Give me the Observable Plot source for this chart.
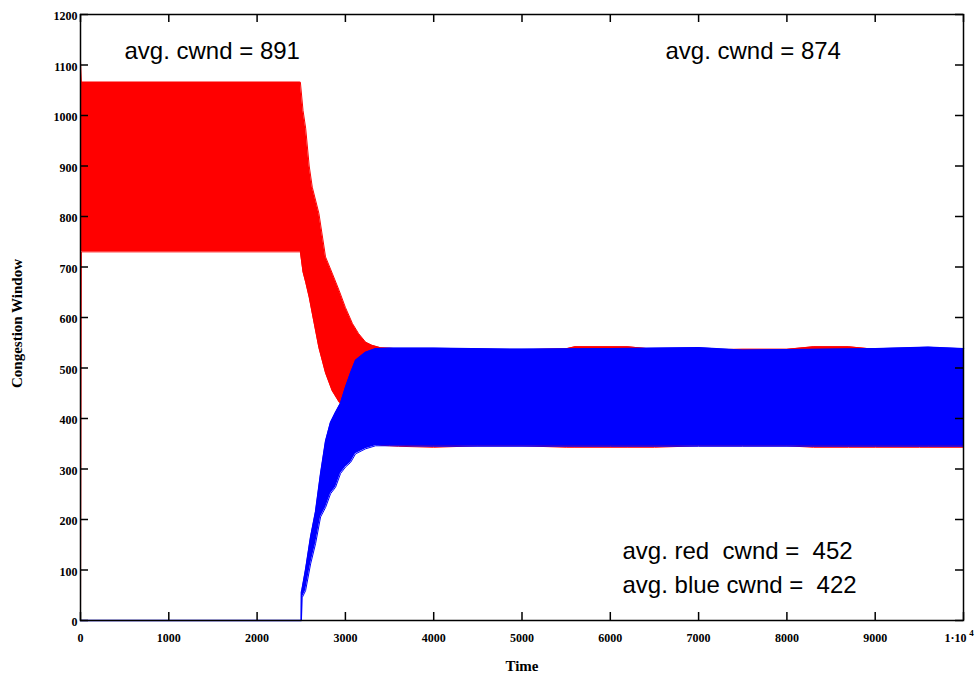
<!DOCTYPE html>
<html><head><meta charset="utf-8">
<script src="https://cdn.jsdelivr.net/npm/d3@7"></script>
<script src="https://cdn.jsdelivr.net/npm/@observablehq/plot@0.6"></script>
<style>body{margin:0;background:#fff} svg text{white-space:pre}</style>
</head><body><div id="chart"></div>
<script>
// Red flow: envelope (min / max of the oscillating cwnd)
const redTime = [0, 10, 2490, 2520, 2550, 2590, 2625, 2700, 2775, 2850, 2930, 3000, 3080, 3150, 3230, 3300, 3400, 3600, 4000, 4500, 5000, 5500, 5600, 6200, 6500, 7000, 7500, 8000, 8300, 8700, 9000, 9500, 10000];
const redHigh = [1108, 1066, 1066, 1010, 975, 900, 858, 806, 720, 688, 653, 620, 588, 568, 551, 545, 540, 538, 538, 537, 536, 538, 542, 542, 537, 536, 537, 537, 542, 542, 537, 537, 536];
const redLow  = [0, 730, 730, 690, 670, 640, 608, 540, 490, 455, 432, 420, 395, 375, 360, 352, 347, 345, 343, 346, 346, 343, 343, 343, 343, 346, 346, 346, 343, 343, 343, 343, 343];
// Blue flow: starts at t = 2500
const blueTime = [0, 2500, 2502, 2510, 2549, 2606, 2662, 2719, 2776, 2832, 2889, 2945, 3002, 3059, 3115, 3229, 3342, 3500, 4000, 5000, 6000, 7000, 7500, 9000, 9600, 10000];
const blueHigh = [0, 0, 56, 62, 100, 165, 215, 290, 355, 392, 412, 430, 462, 490, 515, 531, 538, 539, 539, 537, 538, 540, 535, 538, 541, 538];
const blueLow  = [0, 0, 0, 45, 59, 112, 152, 205, 224, 251, 264, 291, 304, 313, 330, 340, 346, 346, 345, 345, 345, 345, 345, 345, 345, 345];

const xTicks = [0, 1000, 2000, 3000, 4000, 5000, 6000, 7000, 8000, 9000, 10000];
const xTickLabels = ["0", "1000", "2000", "3000", "4000", "5000", "6000", "7000", "8000", "9000", "1\u00b710"];
const xLastExponent = "4";
const yTicks = [0, 100, 200, 300, 400, 500, 600, 700, 800, 900, 1000, 1100, 1200];
const xLabel = "Time";
const yLabel = "Congestion Window";
const noteTopLeft = "avg. cwnd = 891";
const noteTopRight = "avg. cwnd = 874";
const noteRed = "avg. red  cwnd =  452";
const noteBlue = "avg. blue cwnd =  422";

const red = redTime.map((t, i) => ({t, lo: redLow[i], hi: redHigh[i]}));
const blue = blueTime.map((t, i) => ({t, lo: blueLow[i], hi: blueHigh[i]}));

const W = 977, H = 679, mL = 80, mR = 14, mT = 14, mB = 59;
const innerW = W - mL - mR, innerH = H - mT - mB;
const serif = "'Liberation Serif','Times New Roman',serif";
const sans = "'Liberation Sans',Arial,Helvetica,sans-serif";
const RED = "#ff0000", BLUE = "#0000ff";
const lastTick = xTicks[xTicks.length - 1];

const plot = Plot.plot({
  width: W, height: H,
  marginLeft: mL, marginRight: mR, marginTop: mT, marginBottom: mB,
  style: {fontFamily: serif, background: "white", color: "black"},
  x: {domain: [0, 10000]},
  y: {domain: [0, 1200]},
  marks: [
    Plot.areaY(red, {x: "t", y1: "lo", y2: "hi", fill: RED}),
    Plot.lineY(red, {x: "t", y: "hi", stroke: RED, strokeWidth: 1}),
    Plot.lineY(red, {x: "t", y: "lo", stroke: RED, strokeWidth: 1}),
    Plot.areaY(blue, {x: "t", y1: "lo", y2: "hi", fill: BLUE}),
    Plot.lineY(blue, {x: "t", y: "hi", stroke: BLUE, strokeWidth: 1.5}),
    Plot.lineY(blue, {x: "t", y: "lo", stroke: BLUE, strokeWidth: 1}),
    Plot.frame({stroke: "black", strokeWidth: 1.5}),
    Plot.ruleX(xTicks, {x: d => d, insetTop: innerH - 8, stroke: "black", strokeWidth: 1.5}),
    Plot.ruleX(xTicks, {x: d => d, insetBottom: innerH - 8, stroke: "black", strokeWidth: 1.5}),
    Plot.ruleY(yTicks, {y: d => d, insetRight: innerW - 8, stroke: "black", strokeWidth: 1.5}),
    Plot.ruleY(yTicks, {y: d => d, insetLeft: innerW - 8, stroke: "black", strokeWidth: 1.5}),
    Plot.axisX(xTicks.slice(0, -1), {tickSize: 0, tickPadding: 13, label: null, fontSize: 12, fontWeight: "bold",
      tickFormat: d => xTickLabels[xTicks.indexOf(d)]}),
    Plot.text([xTickLabels[xTickLabels.length - 1]], {x: () => lastTick, frameAnchor: "bottom", dx: -8, dy: 21,
      text: d => d, fontSize: 12, fontWeight: "bold", fontFamily: serif}),
    Plot.text([xLastExponent], {x: () => lastTick, frameAnchor: "bottom", dx: 8, dy: 15,
      text: d => d, fontSize: 9, fontWeight: "bold", fontFamily: serif}),
    Plot.axisY(yTicks, {tickSize: 0, tickPadding: 3, label: null, fontSize: 12, fontWeight: "bold", dy: 2,
      tickFormat: d => String(d)}),
    Plot.text([xLabel], {frameAnchor: "bottom", dy: 50, text: d => d, fontSize: 15, fontWeight: "bold", fontFamily: serif}),
    Plot.text([yLabel], {frameAnchor: "left", dx: -63, dy: 6, rotate: -90, textAnchor: "middle", text: d => d, fontSize: 15, fontWeight: "bold", fontFamily: serif}),
    Plot.text([noteTopLeft], {frameAnchor: "top-left", dx: 44, dy: 27, text: d => d, textAnchor: "start", fontSize: 24, fontFamily: sans}),
    Plot.text([noteTopRight], {frameAnchor: "top-left", dx: 585, dy: 27, text: d => d, textAnchor: "start", fontSize: 24, fontFamily: sans}),
    Plot.text([noteRed], {frameAnchor: "bottom-left", dx: 542, dy: -62, text: d => d, textAnchor: "start", fontSize: 24, fontFamily: sans}),
    Plot.text([noteBlue], {frameAnchor: "bottom-left", dx: 542, dy: -28, text: d => d, textAnchor: "start", fontSize: 24, fontFamily: sans})
  ]
});
document.getElementById("chart").appendChild(plot);
</script>
</body></html>
